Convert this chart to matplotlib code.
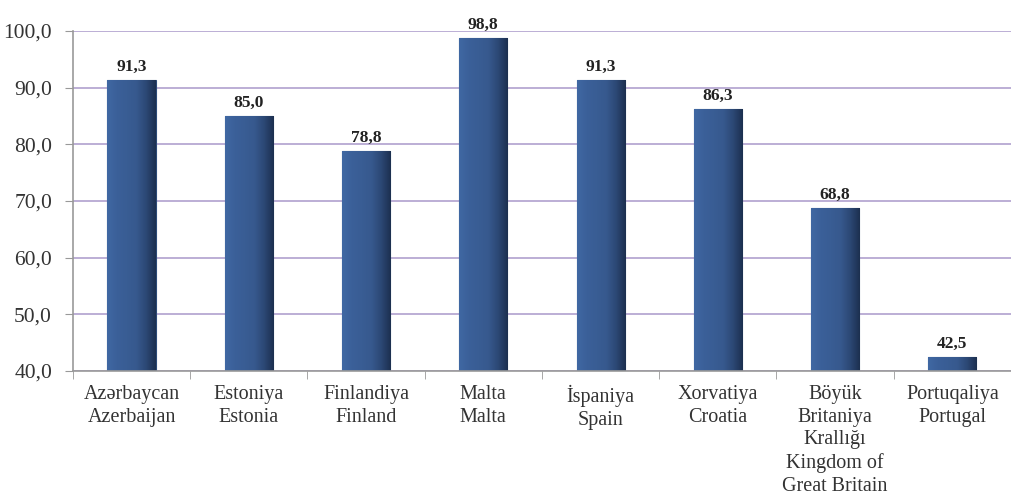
import numpy as np
import matplotlib.pyplot as plt
from matplotlib.colors import LinearSegmentedColormap

categories = [
    'Azərbaycan\nAzerbaijan',
    'Estoniya\nEstonia',
    'Finlandiya\nFinland',
    'Malta\nMalta',
    'İspaniya\nSpain',
    'Xorvatiya\nCroatia',
    'Böyük\nBritaniya\nKrallığı\nKingdom of\nGreat Britain',
    'Portuqaliya\nPortugal',
]
values = [91.3, 85.0, 78.8, 98.8, 91.3, 86.3, 68.8, 42.5]
yticks = [40, 50, 60, 70, 80, 90, 100]


def fmt(v):
    return f'{v:.1f}'.replace('.', ',')


def main():
    plt.rcParams['font.family'] = ['Liberation Serif', 'DejaVu Serif']

    fig = plt.figure(figsize=(10.12, 5), dpi=100)
    ax = fig.add_axes([0.072, 0.258, 0.927, 0.68])

    ymin = yticks[0]
    x = np.arange(len(values))
    bars = ax.bar(x, np.array(values) - ymin, width=0.41, bottom=ymin,
                  color='#3a5f96', edgecolor='#2c4a78', linewidth=0.8,
                  zorder=2)

    # horizontal shading on each bar (lighter left, dark right edge)
    cmap = LinearSegmentedColormap.from_list(
        'barshade', ['#4068a3', '#3b6099', '#395d94', '#37598e', '#2c4875',
                     '#1c2f4f'])
    grad = np.linspace(0, 1, 256).reshape(1, -1)
    for b in bars:
        x0, w = b.get_x(), b.get_width()
        y0, y1 = b.get_y(), b.get_y() + b.get_height()
        im = ax.imshow(grad, cmap=cmap, aspect='auto',
                       extent=[x0, x0 + w, y0, y1], zorder=2.5)
        im.set_clip_path(b)

    for xi, v in zip(x, values):
        ax.text(xi, v + 0.9, fmt(v), ha='center', va='bottom',
                fontsize=12.5, fontweight='bold', color='#222222')

    ax.set_ylim(40, 100)
    ax.set_xlim(-0.5, len(values) - 0.5)
    ax.set_yticks(yticks)
    ax.set_yticklabels([fmt(t) for t in yticks], fontsize=15.5, color='#333333')
    ax.yaxis.grid(True, color='#b6a8d2', linewidth=1.3, zorder=0)
    ax.set_axisbelow(True)

    ax.set_xticks(x)
    ax.set_xticklabels(categories, fontsize=14.5, color='#333333',
                       linespacing=1.27)
    ax.set_xticks(np.arange(len(values) + 1) - 0.5, minor=True)
    ax.tick_params(axis='x', which='major', length=0, pad=10)
    ax.tick_params(axis='x', which='minor', length=6, color='#999999')
    ax.tick_params(axis='y', length=6, color='#999999', pad=9)

    for s in ['top', 'right']:
        ax.spines[s].set_visible(False)
    for s in ['left', 'bottom']:
        ax.spines[s].set_color('#999999')
        ax.spines[s].set_linewidth(1.2)

    fig.savefig('out.png', dpi=100)


if __name__ == "__main__":
    main()
